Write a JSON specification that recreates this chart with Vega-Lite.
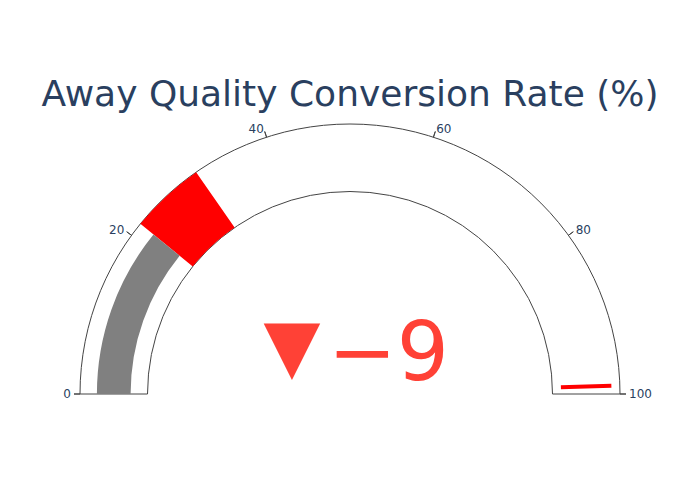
{
  "$schema": "https://vega.github.io/schema/vega-lite/v6.json",
  "width": 700,
  "height": 500,
  "autosize": {"type": "fit", "contains": "padding"},
  "padding": {"top": 77, "left": 0, "right": 0, "bottom": 0},
  "background": "white",
  "title": {
    "text": "Away Quality Conversion Rate (%)",
    "fontSize": 36,
    "font": "DejaVu Sans",
    "fontWeight": "normal",
    "color": "#2a3f5f",
    "anchor": "middle",
    "baseline": "top",
    "offset": 0
  },
  "config": {"view": {"stroke": null}},
  "datasets": {
    "gauge": [{"start": 0, "end": 100}],
    "steps": [{"start": 21.7, "end": 30.7}],
    "bar": [{"start": 0, "end": 21.7}],
    "threshold": [{"value": 99}],
    "ticks": [{"v": 0}, {"v": 20}, {"v": 40}, {"v": 60}, {"v": 80}, {"v": 100}],
    "delta": [{"symbol": "▼", "delta": -9}]
  },
  "layer": [
    {
      "data": {"name": "gauge"},
      "mark": {"type": "arc", "radius": 270, "radius2": 202.5, "fill": "white", "stroke": "#444", "strokeWidth": 1, "x": {"expr": "width/2"}, "y": {"expr": "height-106"}},
      "encoding": {
        "theta": {"field": "start", "type": "quantitative", "stack": null, "scale": {"domain": [0, 100], "range": [-1.5708, 1.5708]}},
        "theta2": {"field": "end"}
      }
    },
    {
      "data": {"name": "steps"},
      "mark": {"type": "arc", "radius": 270, "radius2": 202.5, "fill": "red", "x": {"expr": "width/2"}, "y": {"expr": "height-106"}},
      "encoding": {
        "theta": {"field": "start", "type": "quantitative", "stack": null, "scale": {"domain": [0, 100], "range": [-1.5708, 1.5708]}},
        "theta2": {"field": "end"}
      }
    },
    {
      "data": {"name": "bar"},
      "mark": {"type": "arc", "radius": 253.1, "radius2": 219.4, "fill": "gray", "x": {"expr": "width/2"}, "y": {"expr": "height-106"}},
      "encoding": {
        "theta": {"field": "start", "type": "quantitative", "stack": null, "scale": {"domain": [0, 100], "range": [-1.5708, 1.5708]}},
        "theta2": {"field": "end"}
      }
    },
    {
      "data": {"name": "threshold"},
      "mark": {"type": "arc", "radius": 261.5, "radius2": 211, "fill": null, "stroke": "red", "strokeWidth": 4, "x": {"expr": "width/2"}, "y": {"expr": "height-106"}},
      "encoding": {
        "theta": {"field": "value", "type": "quantitative", "stack": null, "scale": {"domain": [0, 100], "range": [-1.5708, 1.5708]}},
        "theta2": {"field": "value"}
      }
    },
    {
      "data": {"name": "ticks"},
      "mark": {"type": "arc", "radius": 276, "radius2": 270, "fill": null, "stroke": "#444", "strokeWidth": 1, "x": {"expr": "width/2"}, "y": {"expr": "height-106"}},
      "encoding": {
        "theta": {"field": "v", "type": "quantitative", "stack": null, "scale": {"domain": [0, 100], "range": [-1.5708, 1.5708]}},
        "theta2": {"field": "v"}
      }
    },
    {
      "data": {"name": "ticks"},
      "mark": {"type": "text", "radius": 279, "fontSize": 12, "font": "DejaVu Sans", "color": "#2a3f5f", "align": {"expr": "datum.v < 50 ? 'right' : datum.v > 50 ? 'left' : 'center'"}, "baseline": "middle", "x": {"expr": "width/2"}, "y": {"expr": "height-106"}},
      "encoding": {
        "theta": {"field": "v", "type": "quantitative", "stack": null, "scale": {"domain": [0, 100], "range": [-1.5708, 1.5708]}},
        "text": {"field": "v", "type": "quantitative"}
      }
    },
    {
      "data": {"name": "delta"},
      "mark": {"type": "text", "fontSize": 74, "font": "DejaVu Sans", "color": "#FF4136", "align": "center", "baseline": "alphabetic", "x": {"expr": "width/2-58"}, "y": {"expr": "height-129"}},
      "encoding": {
        "text": {"field": "symbol", "type": "nominal"}
      }
    },
    {
      "data": {"name": "delta"},
      "mark": {"type": "text", "fontSize": 82, "font": "DejaVu Sans", "color": "#FF4136", "align": "right", "baseline": "alphabetic", "x": {"expr": "width/2+99"}, "y": {"expr": "height-120"}},
      "encoding": {
        "text": {"field": "delta", "type": "quantitative", "format": "d"}
      }
    }
  ]
}
